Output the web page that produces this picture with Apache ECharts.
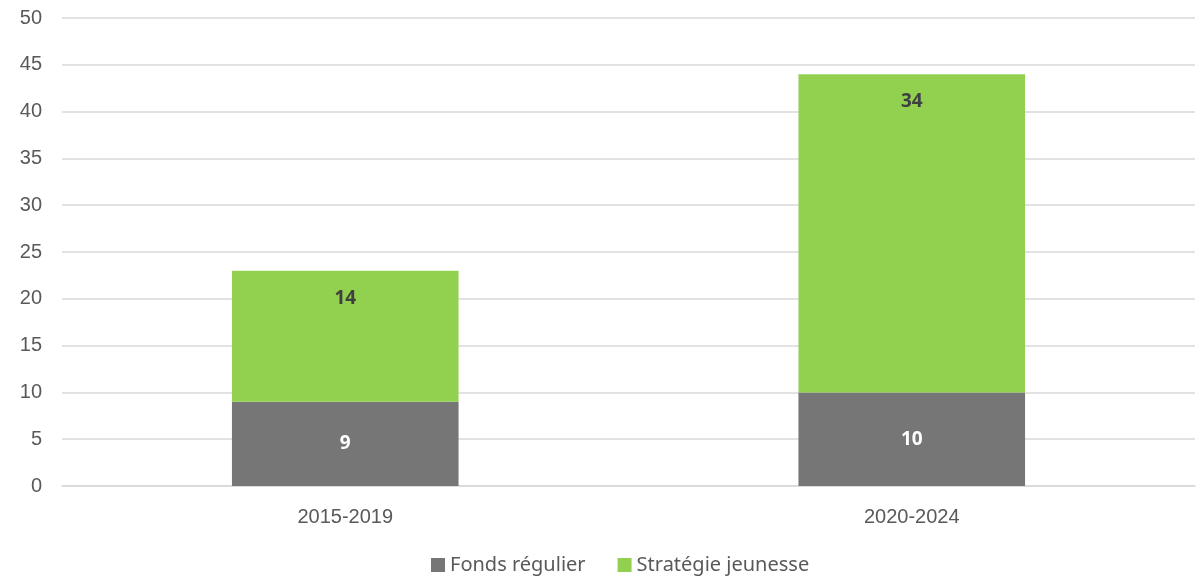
<!DOCTYPE html>
<html>
<head>
<meta charset="utf-8">
<script src="https://cdn.jsdelivr.net/npm/echarts@6/dist/echarts.min.js"></script>
<style>
  html, body { margin: 0; padding: 0; background: #fff; }
  #chart { width: 1203px; height: 582px; }
</style>
</head>
<body>
<div id="chart"></div>
<script>
const categories = ['2015-2019', '2020-2024'];
const fondsRegulier = [9, 10];
const strategieJeunesse = [14, 34];
const yTicks = { min: 0, max: 50, interval: 5 };

const chart = echarts.init(document.getElementById('chart'));
chart.setOption({
  animation: false,
  grid: { left: 62, right: 8, top: 18, bottom: 96 },
  legend: {
    bottom: 2,
    left: 426,
    itemWidth: 14,
    itemHeight: 14,
    itemGap: 32,
    icon: 'rect',
    textStyle: { color: '#595959', fontSize: 20, fontFamily: 'Noto Sans' },
    data: ['Fonds régulier', 'Stratégie jeunesse']
  },
  xAxis: {
    type: 'category',
    data: categories,
    axisLine: { lineStyle: { color: '#d9d9d9', width: 1.5 } },
    axisTick: { show: false },
    axisLabel: { color: '#595959', fontSize: 20, margin: 21, fontFamily: 'Liberation Sans' }
  },
  yAxis: {
    type: 'value',
    min: yTicks.min,
    max: yTicks.max,
    interval: yTicks.interval,
    axisLine: { show: false },
    axisTick: { show: false },
    axisLabel: { color: '#595959', fontSize: 20, margin: 20, fontFamily: 'Liberation Sans' },
    splitLine: { lineStyle: { color: '#d9d9d9', width: 1.5 } }
  },
  series: [
    {
      name: 'Fonds régulier',
      type: 'bar',
      stack: 'total',
      data: fondsRegulier,
      barWidth: '40%',
      itemStyle: { color: '#767676' },
      label: {
        show: true, position: 'inside', color: '#ffffff',
        fontSize: 19, fontWeight: 'bold', fontFamily: 'Noto Sans'
      }
    },
    {
      name: 'Stratégie jeunesse',
      type: 'bar',
      stack: 'total',
      data: strategieJeunesse,
      barWidth: '40%',
      itemStyle: { color: '#92d050' },
      label: {
        show: true, position: 'insideTop', distance: 18, color: '#404040',
        fontSize: 19, fontWeight: 'bold', fontFamily: 'Noto Sans'
      }
    }
  ]
});
</script>
</body>
</html>
